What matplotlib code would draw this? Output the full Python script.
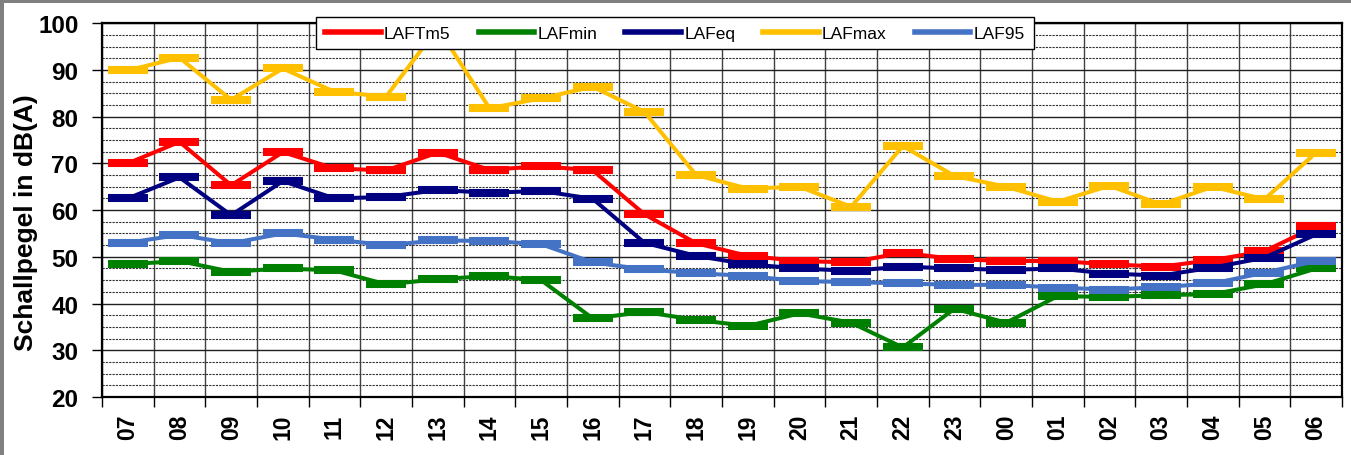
import numpy as np
import matplotlib.pyplot as plt
from matplotlib.patches import Rectangle

plt.rcParams['font.family'] = ['Liberation Sans', 'DejaVu Sans']

# hourly levels in dB(A)
hours = ['07', '08', '09', '10', '11', '12', '13', '14', '15', '16', '17', '18',
         '19', '20', '21', '22', '23', '00', '01', '02', '03', '04', '05', '06']
laftm5 = [70.0, 74.6, 65.3, 72.4, 68.9, 68.5, 72.3, 68.6, 69.4, 68.5, 59.1, 52.9,
          50.2, 49.1, 48.8, 50.9, 49.5, 49.1, 49.1, 48.4, 47.9, 49.3, 51.2, 56.5]
lafmin = [48.4, 49.1, 46.8, 47.5, 47.1, 44.1, 45.2, 45.9, 45.0, 36.8, 38.2, 36.5,
          35.2, 37.9, 35.9, 30.6, 38.9, 35.9, 41.6, 41.4, 41.8, 42.0, 44.1, 47.5]
lafeq = [62.5, 67.0, 58.9, 66.2, 62.5, 62.8, 64.3, 63.7, 64.1, 62.4, 53.0, 50.2,
         48.4, 47.5, 47.0, 47.9, 47.5, 47.2, 47.5, 46.4, 46.0, 47.7, 49.8, 54.8]
lafmax = [89.9, 92.6, 83.6, 90.3, 85.3, 84.3, 99.0, 81.8, 83.9, 86.4, 81.0, 67.5,
          64.6, 65.0, 60.7, 73.7, 67.3, 65.0, 61.8, 65.2, 61.2, 65.0, 62.3, 72.3]
laf95 = [53.0, 54.7, 52.9, 55.0, 53.7, 52.5, 53.5, 53.4, 52.7, 48.8, 47.3, 46.5,
         45.9, 44.8, 44.6, 44.3, 44.0, 44.0, 43.4, 43.0, 43.5, 44.3, 46.6, 49.1]

series = [('LAFTm5', laftm5, '#FF0000'),
          ('LAFmin', lafmin, '#008000'),
          ('LAFeq', lafeq, '#000080'),
          ('LAFmax', lafmax, '#FFC000'),
          ('LAF95', laf95, '#4472C4')]

fig = plt.figure(figsize=(13.51, 4.56), dpi=100)
ax = fig.add_axes([0.0755, 0.1272, 0.9178, 0.8198])

x = np.arange(len(hours))
for name, vals, col in series:
    ax.plot(x, vals, color=col, lw=2.9, marker='_', ms=29, mew=5.8,
            solid_joinstyle='round', label=name, zorder=3)

ax.set_xlim(-0.5, len(hours) - 0.5)
ax.set_ylim(20, 100)

ax.set_xticks(x)
ax.set_xticklabels(hours, rotation=90, fontsize=16.5, fontweight='bold')
ax.set_xticks(np.arange(len(hours) + 1) - 0.5, minor=True)
ax.tick_params(axis='x', which='major', length=0, pad=12)
ax.tick_params(axis='x', which='minor', length=7, width=1, direction='out')

ax.set_yticks(np.arange(20, 101, 10))
ax.set_yticks(np.arange(20, 100, 2.5), minor=True)
ax.tick_params(axis='y', which='major', length=7, width=1, direction='out',
               labelsize=17.5, pad=10)
ax.tick_params(axis='y', which='minor', length=0)
for lab in ax.get_yticklabels():
    lab.set_fontweight('bold')

ax.grid(True, axis='x', which='minor', color='#404040', lw=1)
ax.grid(True, axis='y', which='major', color='#202020', lw=1)
ax.grid(True, axis='y', which='minor', color='#303030', lw=0.8, ls=(0, (2, 1)))
ax.set_axisbelow(True)

for sp in ax.spines.values():
    sp.set_linewidth(1.6)
    sp.set_color('black')

ax.set_ylabel('Schallpegel in dB(A)', fontsize=19, fontweight='bold')
ax.yaxis.set_label_coords(-0.052, 0.47)

leg = ax.legend(loc='center', bbox_to_anchor=(0.4996, 0.9254),
                bbox_transform=fig.transFigure, ncol=5, fontsize=12.5,
                frameon=True, fancybox=False, framealpha=1, edgecolor='black',
                handlelength=3.2, handletextpad=0.2, columnspacing=1.6,
                borderpad=0.5)
leg.get_frame().set_linewidth(1)
for h in leg.get_lines():
    h.set_marker('')
    h.set_linewidth(4)
leg.set_zorder(10)

# grey frame on the left and top edge of the picture
fig.add_artist(Rectangle((0, 0), 4 / 1351, 1, transform=fig.transFigure,
                         facecolor='#808080', edgecolor='none'))
fig.add_artist(Rectangle((0, 1 - 4 / 456), 1, 4 / 456, transform=fig.transFigure,
                         facecolor='#808080', edgecolor='none'))

fig.savefig('out.png', dpi=100)
